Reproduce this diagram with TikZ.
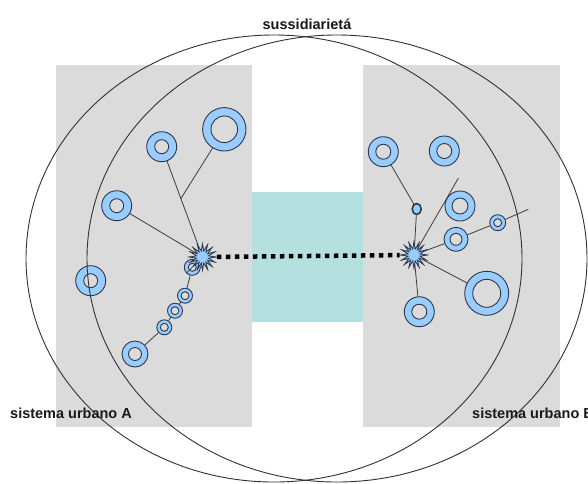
\documentclass[tikz,border=0pt]{standalone}
\usepackage{fontspec}
\setmainfont{Liberation Sans}
\usetikzlibrary{shapes.geometric,calc}
\definecolor{bggray}{RGB}{219,219,219}
\definecolor{tealc}{RGB}{181,224,224}
\definecolor{ringblue}{RGB}{153,204,255}
\definecolor{ringline}{RGB}{45,55,75}
\definecolor{linec}{RGB}{60,60,60}
\definecolor{ellc}{RGB}{50,50,50}
\tikzset{
  ring/.style 2 args={circle, draw=ringline, fill=ringblue, line width=0.9pt,
    inner sep=0pt, minimum size=2*#1pt,
    path picture={\draw[ringline, fill=bggray, line width=0.9pt]
      (path picture bounding box.center) circle[radius=#2pt];}},
  dot/.style={ellipse, draw=ringline, fill=ringblue, line width=1.6pt,
    inner sep=0pt, minimum width=9pt, minimum height=11pt},
  burst/.style={star, star points=16, star point ratio=2.2, draw=ringline,
    fill=ringblue, line width=0.7pt, inner sep=0pt, minimum size=26pt},
  conn/.style={draw=linec, line width=0.8pt},
  dotline/.style={draw=black, line width=4.5pt, dash pattern=on 4.5pt off 4.5pt},
  bigell/.style={draw=ellc, line width=0.9pt},
  lbl/.style={font=\fontsize{14.5}{16}\selectfont\bfseries, text=black!90, inner sep=0pt}
}
\begin{document}
\begin{tikzpicture}[x=1pt,y=-1pt]
\clip (0,0) rectangle (588,483);
\fill[white] (0,0) rectangle (588,483);
% background blocks
\fill[bggray] (56,65) rectangle (252,427);
\fill[bggray] (363,65) rectangle (560,427);
\fill[tealc] (252,192) rectangle (363,322);

% left system
\node[ring={15}{7}] (l1) at (161.7,146.7) {};
\node[ring={21.7}{13.3}] (l2) at (224.3,129.3) {};
\node[ring={15}{7}] (l3) at (116.7,205.7) {};
\node[ring={15}{7}] (l4) at (90.7,280.7) {};
\node[ring={8}{4}] (l5) at (192.3,267.3) {};
\node[ring={7.5}{4}] (l6) at (185,295.7) {};
\node[ring={7.5}{4}] (l7) at (175,310.7) {};
\node[ring={7.5}{4}] (l8) at (164.3,327.3) {};
\node[ring={13}{6.5}] (l9) at (135,354) {};
\node[burst] (sl) at (202.5,257) {};
\coordinate (j1) at ($(l1)!0.47!(sl)$);

% right system
\node[ring={15}{7.5}] (r1) at (383.3,151.7) {};
\node[ring={15}{7.5}] (r2) at (444.3,151) {};
\node[ring={15}{8}] (r3) at (460,206) {};
\node[dot] (r4) at (416.7,209) {};
\node[ring={12}{6}] (r5) at (456,239.3) {};
\node[ring={8}{4}] (r6) at (497.7,222.7) {};
\node[ring={22}{14}] (r7) at (486.7,293.3) {};
\node[ring={15}{7.5}] (r8) at (419.3,311.7) {};
\node[burst] (sr) at (414,255) {};
\coordinate (e1) at (458.3,178.3);
\coordinate (e2) at (528.3,209.3);

% connectors
\path[conn] (l1) -- (sl);
\path[conn] (l2) -- (j1);
\path[conn] (l3) -- (sl);
\path[conn] (l9) -- (l8) -- (l7) -- (l6) -- (l5) -- (sl);
\path[conn] (r1) -- (r4) -- (sr);
\path[conn] (sr) -- (e1);
\path[conn] (sr) -- (r5) -- (r6) -- (e2);
\path[conn] (sr) -- (r7);
\path[conn] (sr) -- (r8);
\path[dotline] (sl) -- (sr);
% redraw stars on top
\node[burst] at (sl) {};
\node[burst] at (sr) {};

% big ellipses
\node[bigell, ellipse, minimum width=496pt, minimum height=447pt, inner sep=0pt] (ea) at (274,258.5) {};
\node[bigell, ellipse, minimum width=500pt, minimum height=447pt, inner sep=0pt] (eb) at (337,258.5) {};

% labels
\node[lbl] (t1) at (307,24) {sussidiarietá};
\node[lbl, anchor=base west] (t2) at (10,418) {sistema urbano A};
\node[lbl, anchor=base west] (t3) at (472,418) {sistema urbano B};
\end{tikzpicture}
\end{document}
